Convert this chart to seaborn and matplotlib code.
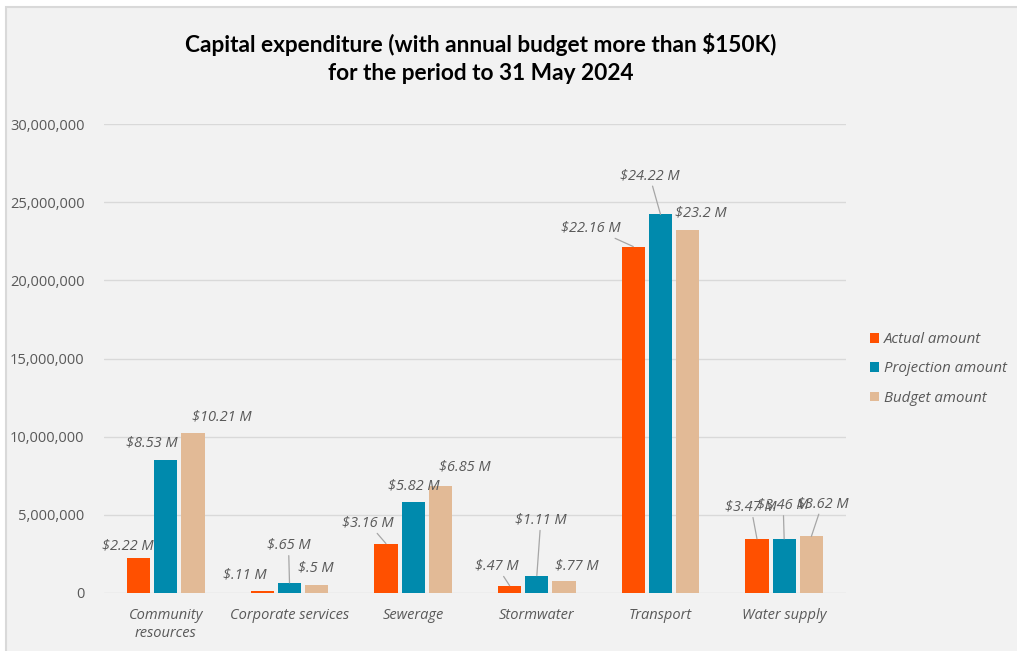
import matplotlib
matplotlib.use("Agg")
import matplotlib.pyplot as plt
import seaborn as sns
import pandas as pd
from matplotlib.patches import Rectangle
from matplotlib.ticker import FuncFormatter

# ---- data (values in $ millions) ----
categories = ["Community\nresources", "Corporate services", "Sewerage",
              "Stormwater", "Transport", "Water supply"]
series = ["Actual amount", "Projection amount", "Budget amount"]
actual = [2.22, 0.11, 3.16, 0.47, 22.16, 3.47]
projection = [8.53, 0.65, 5.82, 1.11, 24.22, 3.46]
budget = [10.21, 0.50, 6.85, 0.77, 23.20, 3.62]
y_ticks = [0, 5_000_000, 10_000_000, 15_000_000, 20_000_000, 25_000_000, 30_000_000]

# ---- label placement (pixel offsets from bar top) and leader-line flags ----
offsets = {
    "Actual amount":     [(-11, 12), (-17, 16), (-18, 21), (-13, 20), (-42, 19), (-6, 32)],
    "Projection amount": [(-14, 17), (-1, 38), (1, 16), (4, 56), (-11, 39), (-1, 34)],
    "Budget amount":     [(29, 17), (-1, 17), (24, 19), (13, 15), (13, 17), (11, 33)],
}
leaders = {
    "Actual amount":     [False, False, True, True, True, True],
    "Projection amount": [False, True, False, True, True, True],
    "Budget amount":     [False, False, False, False, False, True],
}
colors = ["#FF5000", "#008AAD", "#E2BA96"]

rows = []
for s, vals in zip(series, [actual, projection, budget]):
    for c, v in zip(categories, vals):
        rows.append({"category": c, "series": s, "value": v * 1e6, "m": v})
df = pd.DataFrame(rows)


def fmt_m(v):
    s = f"{v:.2f}".rstrip("0").rstrip(".")
    if s.startswith("0"):
        s = s[1:]
    return f"${s} M"


sns.set_style("white")
plt.rcParams["font.family"] = ["Open Sans", "DejaVu Sans"]

W, H = 1017, 651
fig = plt.figure(figsize=(W / 100, H / 100), dpi=100, facecolor="white")
fig.patches.append(Rectangle((6 / W, -0.05), 1.2, (H - 7) / H + 0.05,
                             transform=fig.transFigure, facecolor="#f2f2f2",
                             edgecolor="#d9d9d9", lw=1.5, zorder=-10))
ax = fig.add_axes([104 / W, (H - 593) / H, (846 - 104) / W, (593 - 124) / H])
ax.set_facecolor("none")

sns.barplot(data=df, x="category", y="value", hue="series", order=categories,
            hue_order=series, palette=colors, saturation=1, errorbar=None,
            width=0.66, gap=0.15, ax=ax, zorder=3, linewidth=0)

ax.set_ylim(0, 30_000_000)
ax.set_xlim(-0.5, len(categories) - 0.5)
ax.set_yticks(y_ticks)
ax.yaxis.set_major_formatter(FuncFormatter(lambda v, p: f"{int(v):,}"))
ax.grid(axis="y", color="#d9d9d9", lw=1, zorder=0)
ax.set_axisbelow(True)
for sp in ax.spines.values():
    sp.set_visible(False)
ax.tick_params(axis="y", length=0, pad=14, labelsize=10.5, labelcolor="#595959")
ax.tick_params(axis="x", length=0, pad=11, labelsize=10.5, labelcolor="#595959")
for t in ax.get_xticklabels():
    t.set_fontstyle("italic")
    t.set_linespacing(1.25)
ax.set_xlabel("")
ax.set_ylabel("")

# data labels
for s, cont in zip(series, ax.containers):
    vals = df[df.series == s]["m"].tolist()
    for i, rect in enumerate(cont):
        x = rect.get_x() + rect.get_width() / 2
        y = rect.get_height()
        dx, dy = offsets[s][i]
        kw = {}
        if leaders[s][i]:
            kw["arrowprops"] = dict(arrowstyle="-", color="#a6a6a6", lw=0.9,
                                    shrinkA=0, shrinkB=0)
        ax.annotate(fmt_m(vals[i]), xy=(x, y), xytext=(dx, dy),
                    textcoords="offset pixels", ha="center", va="center",
                    fontsize=10.5, fontstyle="italic", color="#595959",
                    annotation_clip=False, zorder=5, **kw)

# legend
handles, labels = ax.get_legend_handles_labels()
if ax.get_legend() is not None:
    ax.get_legend().remove()
leg = fig.legend(handles, labels, loc="center left",
                 bbox_to_anchor=(870 / W, (H - 369) / H), frameon=False,
                 handlelength=0.6, handleheight=0.6, handletextpad=0.35,
                 labelspacing=0.95, borderpad=0, borderaxespad=0,
                 prop={"size": 10.8, "style": "italic"})
for t in leg.get_texts():
    t.set_color("#595959")

# title
title_font = ["Lato", "DejaVu Sans"]
fig.text(481 / W, 1 - 45 / H,
         "Capital expenditure (with annual budget more than $150K)",
         ha="center", va="center", fontsize=16.3, fontweight="bold",
         family=title_font, color="black")
fig.text(481 / W, 1 - 74 / H, "for the period to 31 May 2024",
         ha="center", va="center", fontsize=16.3, fontweight="bold",
         family=title_font, color="black")

fig.savefig("out.png", dpi=100, facecolor="white")
